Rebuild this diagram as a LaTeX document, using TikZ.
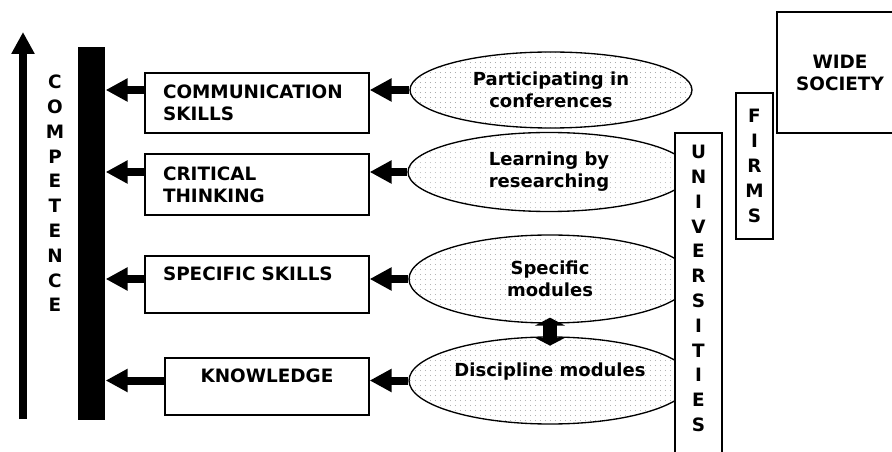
\documentclass[tikz,border=0pt]{standalone}
\usepackage{fontspec}
\setmainfont{DejaVu Sans}
\usepackage{tikz}
\usetikzlibrary{arrows.meta,shapes.geometric,patterns.meta}
\tikzset{
  skillbox/.style={draw, rectangle, inner xsep=13.5pt, inner ysep=0pt, align=left, text width=141pt, font=\bfseries\fontsize{13.8}{16.5}\selectfont},
  activity/.style={draw, ellipse, inner sep=1pt, minimum width=211.5pt, align=center, pattern={Dots[distance=4pt,radius=0.4pt]}, pattern color=gray!80, font=\bfseries\fontsize{13.5}{16.5}\selectfont},
  orgbox/.style={draw, rectangle, fill=white, inner sep=0pt},
  vletters/.style={align=center, inner sep=0pt, font=\bfseries\fontsize{13.8}{18.6}\selectfont},
  competencebar/.style={fill=black, inner sep=0pt, minimum width=20.25pt, minimum height=279.75pt},
  bigarrow/.style={line width=6pt, -{Triangle[length=16.5pt,width=16.5pt]}},
  uparrow/.style={line width=5.6pt, -{Triangle[length=16.5pt,width=16.5pt]}},
  dblarrow/.style={line width=10pt, {Triangle[length=6pt,width=22.5pt]}-{Triangle[length=6pt,width=22.5pt]}}
}
\begin{document}
\begin{tikzpicture}[x=0.75pt,y=-0.75pt,line width=1pt]
\useasboundingbox (0,0) rectangle (892,452);
\clip (0,0) rectangle (892,452);

\coordinate (cbot) at (23,419);
\coordinate (ctop) at (23,32);
\draw[uparrow] (cbot) -- (ctop);
\node[vletters] (competence) at (55,193.5) {C\\O\\M\\P\\E\\T\\E\\N\\C\\E};
\node[competencebar] (bar) at (91.5,233.5) {};

\node[skillbox, minimum height=45pt] (comm) at (257,103) {COMMUNICATION\\SKILLS};
\node[skillbox, minimum height=45.75pt] (crit) at (257,184.5) {CRITICAL\\THINKING};
\node[skillbox, minimum height=42.75pt] (spec) at (257,284.5) {SPECIFIC SKILLS\\\mbox{}};
\node[skillbox, minimum height=42.75pt, text width=126pt, align=center] (know) at (267,386.5) {KNOWLEDGE\\\mbox{}};

\node[activity, minimum height=57pt] (conf) at (551,90) {Participating in\\conferences};
\node[activity, minimum height=59.25pt] (research) at (549,172) {Learning by\\researching};
\node[activity, minimum height=66pt] (specmod) at (550,279) {Specific\\modules};
\node[activity, minimum height=65.25pt] (discmod) at (550,380.5) {Discipline modules\\\mbox{}};

\draw[bigarrow] (conf.west) -- (conf.west -| comm.east);
\draw[bigarrow] (research.west) -- (research.west -| crit.east);
\draw[bigarrow] (specmod.west) -- (specmod.west -| spec.east);
\draw[bigarrow] (discmod.west) -- (discmod.west -| know.east);
\draw[bigarrow] (conf.west -| comm.west) -- (conf.west -| bar.east);
\draw[bigarrow] (research.west -| crit.west) -- (research.west -| bar.east);
\draw[bigarrow] (specmod.west -| spec.west) -- (specmod.west -| bar.east);
\draw[bigarrow] (discmod.west -| know.west) -- (discmod.west -| bar.east);
\draw[dblarrow] ([yshift=4.5pt]specmod.south) -- ([yshift=-7pt]discmod.north);

\node[orgbox, minimum width=35.25pt, minimum height=252.75pt] (univ) at (698.5,301.5) {};
\node[vletters] (univlbl) at (698.5,288.5) {U\\N\\I\\V\\E\\R\\S\\I\\T\\I\\E\\S};
\node[orgbox, vletters, minimum width=27.75pt, minimum height=109.5pt] (firms) at (754.5,166) {F\\I\\R\\M\\S};
\node[orgbox, align=center, minimum width=94.5pt, minimum height=90.75pt, font=\bfseries\fontsize{13.8}{16.5}\selectfont] (society) at (840,72.5) {WIDE\\SOCIETY};
\end{tikzpicture}
\end{document}
